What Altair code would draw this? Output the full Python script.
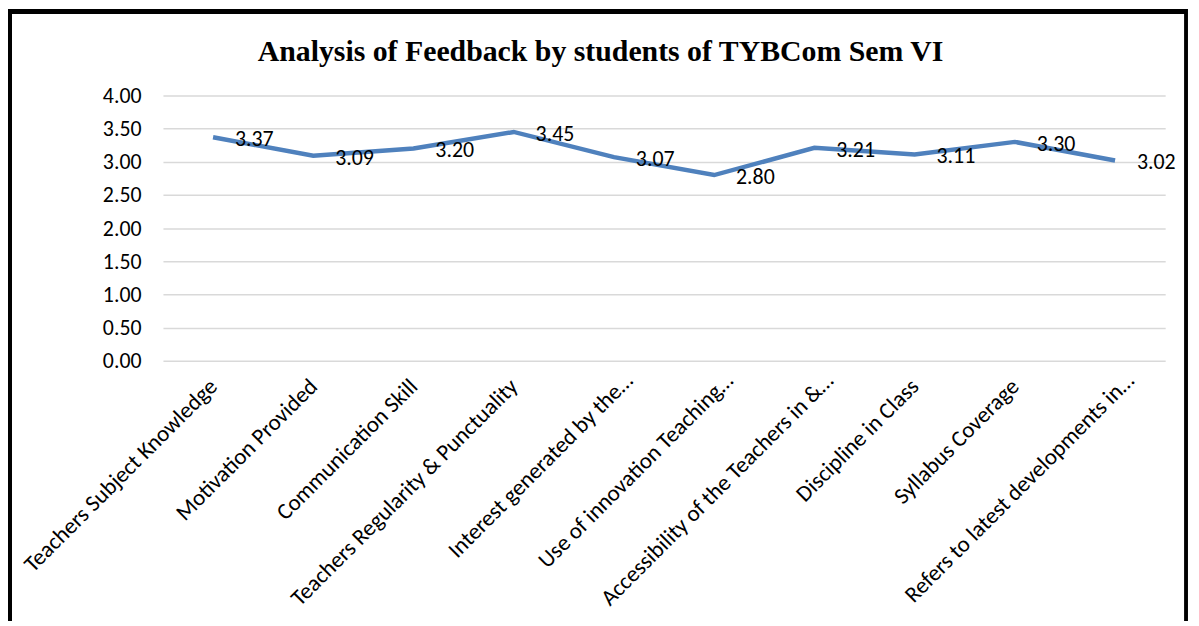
import altair as alt
import pandas as pd

categories = [
    "Teachers Subject Knowledge",
    "Motivation Provided",
    "Communication Skill",
    "Teachers Regularity & Punctuality",
    "Interest generated by the…",
    "Use of innovation Teaching…",
    "Accessibility of the Teachers in &…",
    "Discipline in Class",
    "Syllabus Coverage",
    "Refers to latest developments in…",
]
scores = [3.37, 3.09, 3.20, 3.45, 3.07, 2.80, 3.21, 3.11, 3.30, 3.02]
y_ticks = [0.0, 0.5, 1.0, 1.5, 2.0, 2.5, 3.0, 3.5, 4.0]

df = pd.DataFrame({"category": categories, "score": scores})

LBL_FONT = "Carlito, Lato, sans-serif"
W, H = 1009, 267
TRUNC = "indexof(datum.value, '…') >= 0"

x_enc = alt.X(
    "category:N",
    sort=categories,
    scale=alt.Scale(type="point", padding=0.5),
    axis=alt.Axis(
        title=None, labelAngle=315, labelAlign="right", labelBaseline="middle",
        labelFont=LBL_FONT, labelFontSize=23, labelColor="#000000",
        labelPadding={"condition": {"test": TRUNC, "value": 16}, "value": 22},
        labelOffset={"condition": {"test": TRUNC, "value": 15}, "value": 0},
        ticks=False, domain=False, grid=False,
        labelLimit=400, labelOverlap=False,
    ),
)
y_enc = alt.Y(
    "score:Q",
    scale=alt.Scale(domain=[0, 4]),
    axis=alt.Axis(
        title=None, values=y_ticks, format=".2f",
        labelFont=LBL_FONT, labelFontSize=22, labelColor="#000000",
        labelPadding=22, ticks=False, domain=False,
        grid=True, gridColor="#D9D9D9", gridWidth=1.5,
    ),
)

line = alt.Chart(df).mark_line(color="#4F81BD", strokeWidth=4.5).encode(x=x_enc, y=y_enc)
labels = alt.Chart(df).mark_text(
    align="left", baseline="middle", dx=22, dy=2,
    font=LBL_FONT, fontSize=22, color="#000000",
).encode(x=x_enc, y=y_enc, text=alt.Text("score:Q", format=".2f"))

frame_left = alt.Chart(df).mark_rule(color="#000000", strokeWidth=5).encode(
    x=alt.value(-154.5), y=alt.value(-87), y2=alt.value(700))
frame_top = alt.Chart(df).mark_rule(color="#000000", strokeWidth=5).encode(
    x=alt.value(-157), x2=alt.value(1031), y=alt.value(-84.5))
frame_right = alt.Chart(df).mark_rule(color="#000000", strokeWidth=2.5).encode(
    x=alt.value(1030), y=alt.value(-87), y2=alt.value(700))

chart = alt.layer(frame_left, frame_top, frame_right, line, labels).properties(
    width=W, height=H,
    autosize=alt.AutoSizeParams(type="none"),
    padding={"left": 156, "top": 86, "right": 26, "bottom": 260},
    title=alt.TitleParams(
        "Analysis of Feedback by students of TYBCom Sem VI",
        font="Liberation Serif", fontSize=30, fontWeight="bold", color="#000000",
        anchor="middle", dx=-64, baseline="alphabetic", offset=-85,
    ),
).configure_view(stroke=None)

chart.save("out.html", embed_options={"renderer": "svg", "actions": False})
